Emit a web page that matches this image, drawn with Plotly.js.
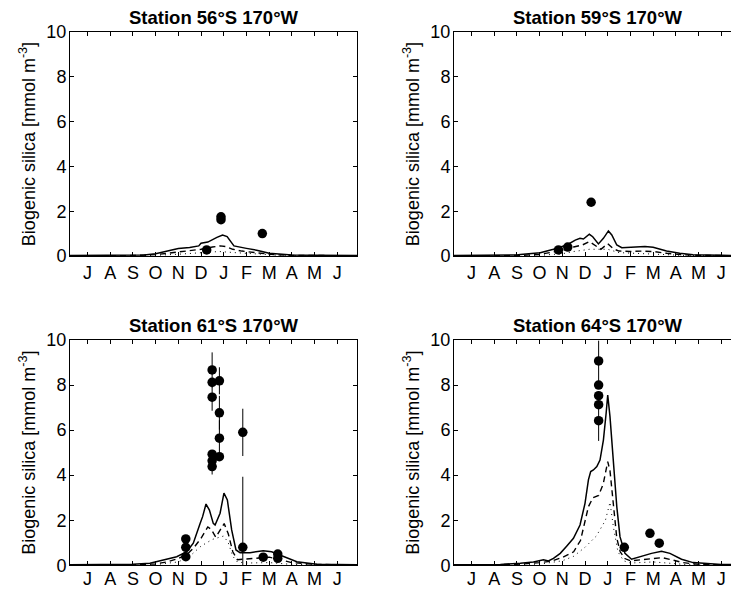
<!DOCTYPE html>
<html><head><meta charset="utf-8">
<script src="https://cdn.plot.ly/plotly-3.0.1.min.js"></script>
<style>html,body{margin:0;padding:0;overflow:hidden;background:#fff}</style>
</head><body><div id="chart" style="width:745px;height:589px"></div>
<script>
// Month tick labels (July .. June)
const monthLabels = ['J','A','S','O','N','D','J','F','M','A','M','J'];
const stationTitles = ['Station 56°S 170°W','Station 59°S 170°W','Station 61°S 170°W','Station 64°S 170°W'];

// ---- Station 56°S ----
const s56SolidX = [-0.77,0,1,2,2.5,3,3.5,4,4.5,4.9,5.0,5.3,5.7,5.95,6.15,6.45,7.0,7.5,8.0,8.5,9,10,11,11.87];
const s56SolidY = [0.02,0.02,0.03,0.04,0.05,0.1,0.2,0.33,0.38,0.45,0.57,0.62,0.83,0.94,0.87,0.45,0.34,0.25,0.12,0.07,0.05,0.03,0.02,0.02];
const s56DashX = [-0.77,2,3,3.5,4,4.5,5.0,5.5,5.85,6.1,6.4,6.8,7.2,7.7,8.2,9,11.87];
const s56DashY = [0.01,0.02,0.06,0.12,0.2,0.25,0.3,0.4,0.45,0.42,0.3,0.22,0.17,0.12,0.06,0.03,0.01];
const s56DotX = [-0.77,3,4,5,5.8,6.5,7.5,8.5,11.87];
const s56DotY = [0,0.03,0.08,0.15,0.2,0.15,0.08,0.03,0];
const s56ObsX = [5.25,5.88,5.88,7.70];
const s56ObsY = [0.27,1.62,1.75,1.0];
const s56ObsErr = [0,0,0,0];

// ---- Station 59°S ----
const s59SolidX = [-0.77,0,1,2,2.15,3.03,3.61,4.2,4.57,4.78,4.93,5.19,5.34,5.59,5.81,6.03,6.18,6.4,6.62,7.13,7.64,8.0,8.59,9.17,9.76,11,11.87];
const s59SolidY = [0.02,0.02,0.03,0.05,0.07,0.15,0.3,0.49,0.71,0.79,0.76,0.97,0.86,0.54,0.79,1.12,0.94,0.49,0.37,0.39,0.42,0.39,0.22,0.12,0.06,0.03,0.02];
const s59DashX = [-0.77,2,3,3.5,4,4.5,4.9,5.2,5.5,5.7,6.0,6.25,6.5,7.0,7.5,8.0,8.6,9.2,10,11.87];
const s59DashY = [0.01,0.02,0.07,0.15,0.25,0.4,0.5,0.64,0.45,0.3,0.55,0.32,0.22,0.2,0.22,0.2,0.12,0.06,0.03,0.01];
const s59DotX = [-0.77,3,4,4.5,5.2,6.0,6.5,7.5,8.5,9.5,11.87];
const s59DotY = [0,0.03,0.1,0.2,0.3,0.3,0.15,0.1,0.06,0.02,0];
const s59ObsX = [3.83,4.24,5.27];
const s59ObsY = [0.27,0.40,2.40];
const s59ObsErr = [0,0,0.15];

// ---- Station 61°S ----
const s61SolidX = [-0.77,0,1,2,2.75,3.49,3.93,4.37,4.66,4.96,5.07,5.22,5.37,5.54,5.62,5.84,6.01,6.16,6.35,6.54,6.72,7.16,7.74,8.11,8.63,9.22,10.1,11,11.87];
const s61SolidY = [0.02,0.02,0.03,0.05,0.09,0.27,0.38,0.6,0.98,1.86,2.16,2.72,2.45,1.86,1.79,2.31,3.2,2.9,1.57,0.68,0.56,0.56,0.65,0.6,0.38,0.16,0.05,0.03,0.02];
const s61DashX = [-0.77,2,3,3.5,4,4.4,4.7,5.0,5.3,5.45,5.65,5.85,6.02,6.2,6.4,6.6,7.0,7.5,8.0,8.5,9,10,11.87];
const s61DashY = [0.01,0.02,0.06,0.15,0.3,0.5,0.8,1.2,1.7,1.6,1.25,1.6,1.85,1.4,0.6,0.25,0.28,0.35,0.36,0.25,0.12,0.04,0.01];
const s61DotX = [-0.77,3,4,4.5,5.0,5.5,6.0,6.2,6.4,6.6,7.0,8.0,9,11.87];
const s61DotY = [0,0.03,0.15,0.4,0.85,1.15,1.3,1.0,0.4,0.15,0.1,0.12,0.04,0];
const s61ObsX = [4.33,4.33,4.33,5.49,5.49,5.49,5.49,5.49,5.49,5.81,5.81,5.81,5.81,6.84,6.84,7.74,8.38,8.38];
const s61ObsY = [1.17,0.80,0.38,8.67,8.12,7.46,4.93,4.64,4.38,8.19,6.77,5.64,4.82,5.90,0.80,0.36,0.50,0.31];
const s61ObsErr = [0,0,0,0.78,0,0.6,0,0,0.35,0.6,0.75,0.8,0,1.05,3.13,0,0,0];

// ---- Station 64°S ----
const s64SolidX = [-0.77,0,1.27,2.15,2.73,3.17,3.39,3.61,3.91,4.2,4.49,4.78,5.0,5.15,5.25,5.37,5.52,5.66,5.81,5.93,6.0,6.1,6.25,6.4,6.54,6.76,7.05,7.27,7.56,7.93,8.37,8.74,9.25,9.76,11,11.87];
const s64SolidY = [0.02,0.02,0.04,0.09,0.15,0.24,0.19,0.31,0.53,0.86,1.2,1.79,2.75,3.79,4.16,4.23,4.38,4.67,5.56,6.75,7.56,6.6,4.53,2.6,1.27,0.53,0.27,0.34,0.44,0.53,0.62,0.53,0.27,0.12,0.04,0.03];
const s64DashX = [-0.77,1,2,3,3.5,4.0,4.5,4.8,5.0,5.15,5.35,5.6,5.8,6.0,6.1,6.25,6.4,6.55,6.75,7.0,7.5,8.0,8.4,8.8,9.3,10,11.87];
const s64DashY = [0.01,0.02,0.04,0.12,0.18,0.35,0.6,1.1,1.9,2.6,3.0,3.1,3.6,4.6,4.2,2.6,1.2,0.6,0.3,0.2,0.25,0.3,0.34,0.25,0.12,0.04,0.01];
const s64DotX = [-0.77,2,3,4,4.5,5.0,5.5,5.9,6.1,6.25,6.45,6.7,7.0,8.0,8.5,9.5,11.87];
const s64DotY = [0,0.02,0.05,0.2,0.4,0.8,1.3,2.0,2.8,1.7,0.6,0.2,0.1,0.15,0.12,0.03,0];
const s64ObsX = [5.6,5.6,5.6,5.6,5.6,6.73,7.86,8.27];
const s64ObsY = [9.07,8.0,7.53,7.13,6.42,0.8,1.42,0.98];
const s64ObsErr = [0.9,0,0,0,0.9,0,0,0];

const panels = [
  {solid:[s56SolidX,s56SolidY], dash:[s56DashX,s56DashY], dot:[s56DotX,s56DotY], obs:[s56ObsX,s56ObsY,s56ObsErr]},
  {solid:[s59SolidX,s59SolidY], dash:[s59DashX,s59DashY], dot:[s59DotX,s59DotY], obs:[s59ObsX,s59ObsY,s59ObsErr]},
  {solid:[s61SolidX,s61SolidY], dash:[s61DashX,s61DashY], dot:[s61DotX,s61DotY], obs:[s61ObsX,s61ObsY,s61ObsErr]},
  {solid:[s64SolidX,s64SolidY], dash:[s64DashX,s64DashY], dot:[s64DotX,s64DotY], obs:[s64ObsX,s64ObsY,s64ObsErr]}
];

const W = 745, H = 589;
const FONT = 'Liberation Sans, Arial, Helvetica, sans-serif';
// plot boxes in pixels: [left, right, top, bottom]
const boxes = [[70,357,32,256],[454,741,32,256],[70,357,340,565.3],[454,741,340,565.3]];

const traces = [];
const layout = {
  width: W, height: H, margin:{l:0,r:0,t:0,b:0},
  paper_bgcolor:'#fff', plot_bgcolor:'#fff', showlegend:false,
  font:{family:FONT, color:'#000', size:18},
  annotations:[]
};

panels.forEach((p,i)=>{
  const n = i+1;
  const xa = 'x'+(n===1?'':n), ya = 'y'+(n===1?'':n);
  traces.push({x:p.dot[0], y:p.dot[1], xaxis:xa, yaxis:ya, mode:'lines', line:{color:'#000', width:1, dash:'1px,4px'}, hoverinfo:'skip'});
  traces.push({x:p.dash[0], y:p.dash[1], xaxis:xa, yaxis:ya, mode:'lines', line:{color:'#000', width:1.4, dash:'6px,4px'}, hoverinfo:'skip'});
  traces.push({x:p.solid[0], y:p.solid[1], xaxis:xa, yaxis:ya, mode:'lines', line:{color:'#000', width:1.5}, hoverinfo:'skip'});
  traces.push({x:p.obs[0], y:p.obs[1], xaxis:xa, yaxis:ya, mode:'markers',
    marker:{color:'#000', size:9.5, symbol:'circle'},
    error_y:{type:'data', array:p.obs[2], visible:true, color:'#000', thickness:1, width:0}});
  const b = boxes[i];
  const bottomRow = i >= 2;
  const axx = {
    domain:[b[0]/W, b[1]/W], range:[-0.77, 11.87], anchor:ya,
    tickvals: monthLabels.map((_,k)=>k), ticktext: monthLabels,
    ticks:'inside', ticklen:4, tickcolor:'#000', showline:true, linecolor:'#000', linewidth:1,
    mirror:'ticks', showgrid:false, zeroline:false, tickfont:{size:18, family:FONT}, automargin:false,
    ticklabelstandoff: bottomRow ? -3 : 0
  };
  const axy = {
    domain:[1-b[3]/H, 1-b[2]/H], range:[0,10], anchor:xa,
    tickvals:[0,2,4,6,8,10], ticks:'inside', ticklen:4, tickcolor:'#000',
    showline:true, linecolor:'#000', linewidth:1, mirror:'ticks', showgrid:false, zeroline:false,
    tickfont:{size:18, family:FONT}, automargin:false, ticklabelstandoff:-1,
    title:{text:'Biogenic silica [mmol m<sup>-3</sup>]', font:{size:18, family:FONT}, standoff:6}
  };
  layout['xaxis'+(n===1?'':n)] = axx;
  layout['yaxis'+(n===1?'':n)] = axy;
  layout.annotations.push({
    text:'<b>'+stationTitles[i]+'</b>', xref:'paper', yref:'paper',
    x:(b[0]+b[1])/2/W, y:1-b[2]/H, xanchor:'center', yanchor:'bottom', yshift:2,
    showarrow:false, font:{size:18.5, family:FONT, color:'#000'}
  });
});

Plotly.newPlot('chart', traces, layout, {displayModeBar:false, staticPlot:true});
</script></body></html>
